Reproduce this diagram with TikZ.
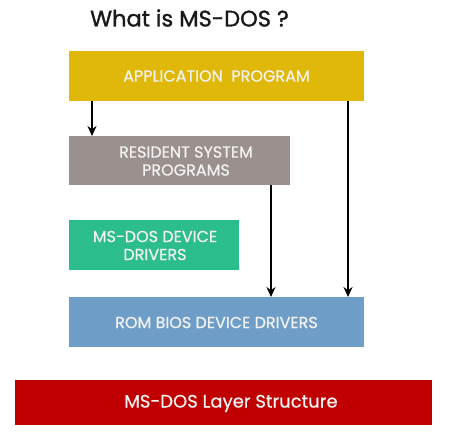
\documentclass[tikz,border=0pt]{standalone}
\usepackage{fontspec}
\setmainfont{Poppins}
\newfontfamily\titlefont[FakeBold=1.2]{Poppins}
\newfontfamily\boxfont[FakeBold=0.6]{Poppins}
\usetikzlibrary{arrows.meta}
\definecolor{cyellow}{HTML}{E0B80A}
\definecolor{cgray}{HTML}{9A918E}
\definecolor{cgreen}{HTML}{2BBD8B}
\definecolor{cblue}{HTML}{6E9EC8}
\definecolor{cred}{HTML}{C00000}
\definecolor{ctext}{HTML}{F2F2F2}
\tikzset{
  layer/.style={inner sep=0pt, text=ctext, align=center, font=\boxfont\fontsize{16}{18}\selectfont},
  conn/.style={line width=1.6pt, -{Stealth[length=10pt,width=9pt]}},
}
\begin{document}
\begin{tikzpicture}[x=1pt,y=-1pt]
\useasboundingbox[fill=white] (0,0) rectangle (473,440);
\node[anchor=center, font=\titlefont\fontsize{22.5}{26}\selectfont, text=black!90] (title) at (189.5,18) {What is MS-DOS ?};
\fill[cyellow] (69,51) rectangle (364,101);
\node[layer] (app) at (216.5,76) {APPLICATION\ \ PROGRAM};
\coordinate (appL) at (92,101);
\coordinate (appR) at (348,101);
\fill[cgray] (69,136) rectangle (290,185);
\node[layer] (res) at (186,161) {RESIDENT SYSTEM\\PROGRAMS};
\coordinate (resT) at (92,136);
\coordinate (resB) at (271,185);
\fill[cgreen] (69,220) rectangle (239,270);
\node[layer] (drv) at (155,245.5) {MS-DOS DEVICE\\DRIVERS};
\fill[cblue] (69,297) rectangle (364,347);
\node[layer] (rom) at (216.5,322.5) {ROM BIOS DEVICE DRIVERS};
\coordinate (romA) at (271,297);
\coordinate (romB) at (348,297);
\fill[cred] (15,380) rectangle (432,425);
\node[layer, font=\boxfont\fontsize{18}{22}\selectfont] (cap) at (231,403.5) {MS-DOS Layer Structure};
\draw[conn] (appL) -- (resT);
\draw[conn] (resB) -- (romA);
\draw[conn] (appR) -- (romB);
\end{tikzpicture}
\end{document}
